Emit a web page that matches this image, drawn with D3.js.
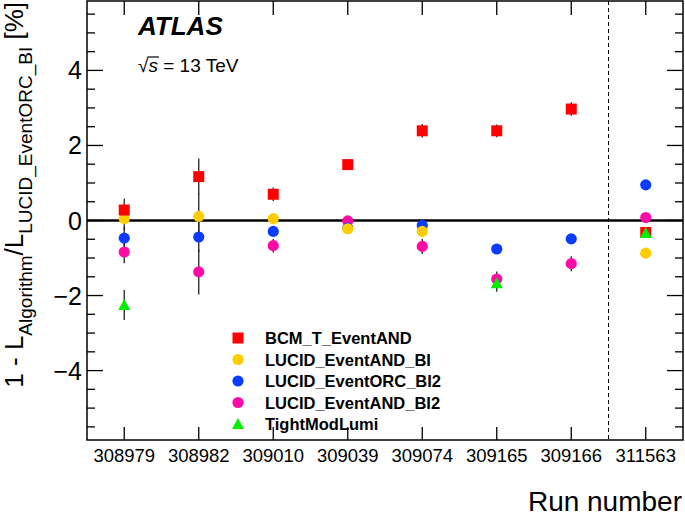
<!DOCTYPE html>
<html>
<head>
<meta charset="utf-8">
<script src="https://cdn.jsdelivr.net/npm/d3@7"></script>
<style>
  body { margin: 0; background: #fff; }
  svg { display: block; font-family: "Liberation Sans", Arial, sans-serif; }
</style>
</head>
<body>
<div id="chart"></div>
<script>
// Run numbers on the x axis
const runs = ["308979", "308982", "309010", "309039", "309074", "309165", "309166", "311563"];

// Values in percent (null = no point for that run)
const bcmT = [0.28, 1.17, 0.70, 1.49, 2.39, 2.39, 2.97, -0.32];
const bcmTErr = [0.30, 0.48, 0.18, 0.10, 0.18, 0.17, 0.18, 0.05];
const lucidAndBi = [0.05, 0.11, 0.05, -0.22, -0.29, null, null, -0.87];
const lucidAndBiErr = [0.30, 0.60, 0.10, 0.10, 0.10, null, null, 0.05];
const lucidOrcBi2 = [-0.47, -0.44, -0.29, -0.20, -0.13, -0.76, -0.49, 0.95];
const lucidOrcBi2Err = [0.30, 0.40, 0.10, 0.10, 0.10, 0.10, 0.10, 0.05];
const lucidAndBi2 = [-0.84, -1.37, -0.67, -0.01, -0.69, -1.56, -1.15, 0.08];
const lucidAndBi2Err = [0.30, 0.60, 0.18, 0.10, 0.20, 0.20, 0.20, 0.05];
const tightModLumi = [-2.25, null, null, null, null, -1.67, null, -0.33];
const tightModLumiErr = [0.40, null, null, null, null, 0.23, null, 0.05];

const yMajorTicks = [-4, -2, 0, 2, 4];

// legend order
const series = [
  {name: "BCM_T_EventAND", vals: bcmT, errs: bcmTErr, color: "#ff0000", shape: "square"},
  {name: "LUCID_EventAND_BI", vals: lucidAndBi, errs: lucidAndBiErr, color: "#ffcc00", shape: "circle"},
  {name: "LUCID_EventORC_BI2", vals: lucidOrcBi2, errs: lucidOrcBi2Err, color: "#0a3cff", shape: "circle"},
  {name: "LUCID_EventAND_BI2", vals: lucidAndBi2, errs: lucidAndBi2Err, color: "#ff0aa6", shape: "circle"},
  {name: "TightModLumi", vals: tightModLumi, errs: tightModLumiErr, color: "#00ee00", shape: "triangle"}
];
// order in which markers are painted (later on top)
const drawOrder = [3, 2, 1, 0, 4];

const W = 685, H = 518;
const pLeft = 87, pRight = 683, pTop = 1, pBottom = 440;

const svg = d3.select("#chart").append("svg")
    .attr("width", W).attr("height", H);

const x = d3.scaleBand().domain(runs).range([pLeft, pRight]).padding(0);
const y = d3.scaleLinear().domain([-5.85, 5.85]).range([pBottom, pTop]);
const cx = r => x(r) + x.bandwidth() / 2;

function marker(sel, shape, color) {
  if (shape === "square") {
    sel.append("path").attr("d", d3.symbol(d3.symbolSquare, 121)()).attr("fill", color);
  } else if (shape === "circle") {
    sel.append("circle").attr("r", 5.6).attr("fill", color);
  } else {
    sel.append("path").attr("d", "M0,-6L6,5L-6,5Z").attr("fill", color);
  }
}

// zero line
svg.append("line")
    .attr("x1", pLeft).attr("x2", pRight)
    .attr("y1", y(0)).attr("y2", y(0))
    .attr("stroke", "#000").attr("stroke-width", 2.5);

// dashed separator before the last run
svg.append("line")
    .attr("x1", x(runs[7])).attr("x2", x(runs[7]))
    .attr("y1", pTop).attr("y2", pBottom)
    .attr("stroke", "#000").attr("stroke-width", 1)
    .attr("stroke-dasharray", "4,3");

// error bars
series.forEach(function(s) {
  runs.forEach(function(r, i) {
    if (s.vals[i] === null) return;
    svg.append("line")
        .attr("x1", cx(r)).attr("x2", cx(r))
        .attr("y1", y(s.vals[i] - s.errs[i])).attr("y2", y(s.vals[i] + s.errs[i]))
        .attr("stroke", "#222").attr("stroke-width", 1.3);
  });
});

// markers
drawOrder.forEach(function(k) {
  const s = series[k];
  runs.forEach(function(r, i) {
    if (s.vals[i] === null) return;
    const g = svg.append("g").attr("transform", "translate(" + cx(r) + "," + y(s.vals[i]) + ")");
    marker(g, s.shape, s.color);
  });
});

// frame
svg.append("rect")
    .attr("x", pLeft).attr("y", pTop)
    .attr("width", pRight - pLeft).attr("height", pBottom - pTop)
    .attr("fill", "none").attr("stroke", "#000").attr("stroke-width", 1.5);

// y ticks, both sides, pointing inward
const yMinor = d3.range(-5.5, 5.51, 0.5);
yMinor.forEach(function(v) {
  const len = yMajorTicks.includes(v) ? 16 : 8;
  svg.append("line").attr("x1", pLeft).attr("x2", pLeft + len)
      .attr("y1", y(v)).attr("y2", y(v)).attr("stroke", "#000").attr("stroke-width", 1.3);
  svg.append("line").attr("x1", pRight).attr("x2", pRight - len)
      .attr("y1", y(v)).attr("y2", y(v)).attr("stroke", "#000").attr("stroke-width", 1.3);
});
svg.selectAll(".ylab").data(yMajorTicks).enter().append("text")
    .attr("x", pLeft - 5).attr("y", d => y(d) + 9)
    .attr("text-anchor", "end").attr("font-size", 25)
    .text(d => d3.format("d")(d));

// x ticks top and bottom
runs.forEach(function(r) {
  svg.append("line").attr("x1", cx(r)).attr("x2", cx(r))
      .attr("y1", pBottom).attr("y2", pBottom - 13).attr("stroke", "#000").attr("stroke-width", 1.3);
  svg.append("line").attr("x1", cx(r)).attr("x2", cx(r))
      .attr("y1", pTop).attr("y2", pTop + 14).attr("stroke", "#000").attr("stroke-width", 1.3);
});
svg.selectAll(".xlab").data(runs).enter().append("text")
    .attr("x", d => cx(d)).attr("y", 462)
    .attr("text-anchor", "middle").attr("font-size", 18.5)
    .text(d => d);

// axis titles
svg.append("text")
    .attr("x", 682).attr("y", 511)
    .attr("text-anchor", "end").attr("font-size", 28)
    .text("Run number");

const yt = svg.append("text")
    .attr("transform", "translate(23,0) rotate(-90)")
    .attr("x", -2).attr("y", 0)
    .attr("text-anchor", "end").attr("font-size", 26);
yt.append("tspan").text("1 - L");
yt.append("tspan").attr("dy", 9).attr("font-size", 19).text("Algorithm");
yt.append("tspan").attr("dy", -9).text("/L");
yt.append("tspan").attr("dy", 9).attr("font-size", 19).text("LUCID_EventORC_BI");
yt.append("tspan").attr("dy", -9).text(" [%]");

// ATLAS label
svg.append("text")
    .attr("x", 138).attr("y", 35)
    .attr("font-size", 26).attr("font-weight", "bold").attr("font-style", "italic")
    .text("ATLAS");

const rs = svg.append("text").attr("x", 138).attr("y", 72).attr("font-size", 19);
rs.append("tspan").text("\u221A");
rs.append("tspan").attr("font-style", "italic").text("s");
rs.append("tspan").text(" = 13 TeV");
const sx0 = rs.node().getStartPositionOfChar(1).x;
const sx1 = rs.node().getEndPositionOfChar(1).x;
svg.append("line").attr("x1", sx0 - 1).attr("x2", sx1 + 1)
    .attr("y1", 57).attr("y2", 57).attr("stroke", "#000").attr("stroke-width", 1.2);

// legend
series.forEach(function(s, i) {
  const ly = 338 + i * 21.5;
  const g = svg.append("g").attr("transform", "translate(238," + ly + ")");
  marker(g, s.shape, s.color);
  svg.append("text")
      .attr("x", 265).attr("y", ly + 6)
      .attr("font-size", 16.5).attr("font-weight", "bold")
      .text(s.name);
});
</script>
</body>
</html>
